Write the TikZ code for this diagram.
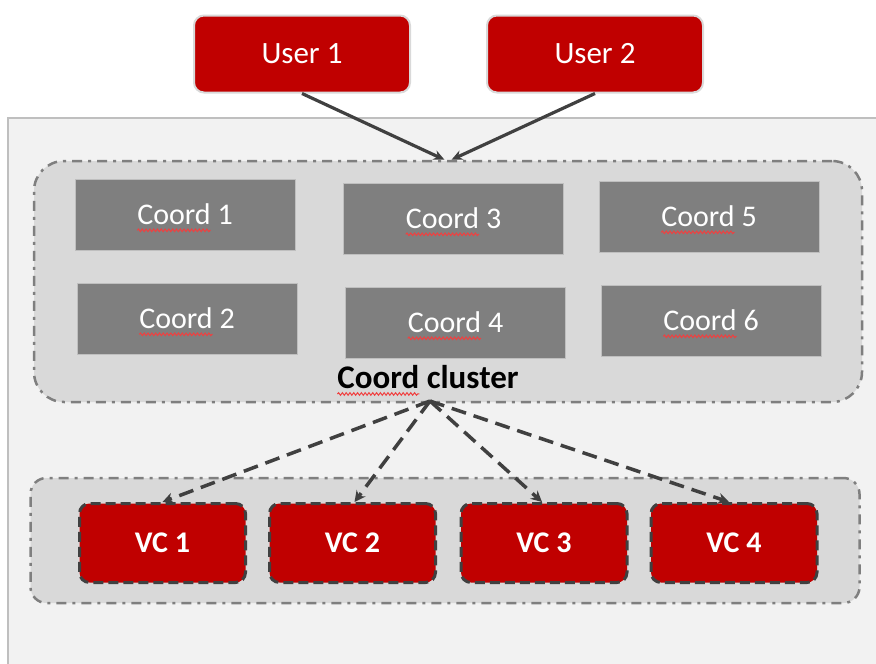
\documentclass[tikz,border=0pt]{standalone}
\usepackage{fontspec}
\setmainfont{Carlito}
\usetikzlibrary{arrows.meta,decorations.pathmorphing}
\definecolor{vred}{HTML}{C00000}
\definecolor{panel}{HTML}{F2F2F2}
\definecolor{panelb}{HTML}{BFBFBF}
\definecolor{clus}{HTML}{D9D9D9}
\definecolor{clusb}{HTML}{7F7F7F}
\definecolor{cbox}{HTML}{7F7F7F}
\definecolor{dark}{HTML}{404040}
\definecolor{wavy}{HTML}{F04040}
\newcommand\wv[1]{\tikz[baseline=(w.base)]{\node[inner sep=0pt,outer sep=0pt,minimum width=0pt,minimum height=0pt,draw=none,fill=none](w){#1};\draw[overlay,wavy,line width=1pt,solid,decorate,decoration={snake,amplitude=1.3pt,segment length=3.8pt}]([yshift=-5.5pt]w.base west)--([yshift=-5.5pt]w.base east);}}
\tikzset{
  userbox/.style={fill=vred,draw=clus,line width=2pt,rounded corners=10pt,minimum width=216pt,minimum height=77pt,inner sep=0pt,text=white,font=\fontsize{31}{33}\selectfont},
  coordbox/.style={fill=cbox,draw=panelb,line width=1pt,minimum width=220pt,minimum height=71pt,inner sep=0pt,text=white,font=\fontsize{30}{32}\selectfont},
  groupbox/.style={fill=clus,draw=clusb,line width=2.5pt,dash pattern=on 10pt off 6pt on 3pt off 6pt,inner sep=0pt},
  vcbox/.style={fill=vred,draw=dark,line width=3pt,dash pattern=on 10pt off 5pt,rounded corners=10pt,minimum width=166pt,minimum height=79pt,inner sep=0pt,text=white,font=\bfseries\fontsize{30}{32}\selectfont},
  solidarrow/.style={draw=dark,line width=3.2pt,-{Stealth[length=11pt,width=10pt]}},
  dasharrow/.style={draw=dark,line width=3.5pt,dash pattern=on 15pt off 8pt,-{Stealth[length=11pt,width=11pt]}},
  clabel/.style={inner sep=0pt,font=\bfseries\fontsize{33}{35}\selectfont,text=black}
}
\begin{document}
\begin{tikzpicture}[x=1pt,y=-1pt]
\useasboundingbox (0,0) rectangle (876,664);
\fill[white] (0,0) rectangle (876,664);
\draw[fill=panel,draw=panelb,line width=1.2pt] (8,118) rectangle (884,672);
% users
\node[userbox] (user1) at (302,54) {User 1};
\node[userbox] (user2) at (595,54) {User 2};
% coord cluster
\node[groupbox,rounded corners=30pt,minimum width=828pt,minimum height=241pt] (cluster) at (448,281.5) {};
\node[coordbox] (c1) at (185,214.5) {\wv{Coord} 1};
\node[coordbox] (c2) at (187,318.5) {\wv{Coord} 2};
\node[coordbox] (c3) at (453.5,218.5) {\wv{Coord} 3};
\node[coordbox] (c4) at (455.5,322.5) {\wv{Coord} 4};
\node[coordbox] (c5) at (709,216.5) {\wv{Coord} 5};
\node[coordbox] (c6) at (711,320.5) {\wv{Coord} 6};
\node[clabel] (clab) at (428,377) {\wv{Coord} cluster};
\coordinate (apex) at (430,401);
% vc group
\node[groupbox,rounded corners=16pt,minimum width=829pt,minimum height=125pt] (vcg) at (445,540.5) {};
\node[vcbox] (vc1) at (162.5,543) {VC 1};
\node[vcbox] (vc2) at (352.5,543) {VC 2};
\node[vcbox] (vc3) at (544,543) {VC 3};
\node[vcbox] (vc4) at (734,543) {VC 4};
% arrows
\draw[solidarrow] (user1.south) -- ([xshift=-3.5pt]cluster.north);
\draw[solidarrow] (user2.south) -- ([xshift=3.5pt]cluster.north);
\draw[dasharrow] (apex) -- (vc1.north);
\draw[dasharrow] (apex) -- ([xshift=2pt]vc2.north);
\draw[dasharrow] (apex) -- ([xshift=-2pt]vc3.north);
\draw[dasharrow] (apex) -- ([xshift=-5pt]vc4.north);
\end{tikzpicture}
\end{document}
